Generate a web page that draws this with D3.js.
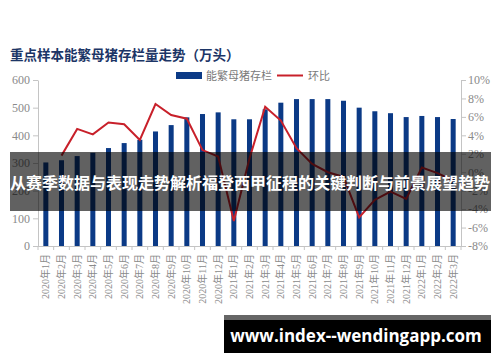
<!DOCTYPE html>
<html>
<head>
<meta charset="utf-8">
<script src="https://cdn.jsdelivr.net/npm/d3@7"></script>
<style>
  body { margin: 0; background: #fff; }
  svg { display: block; }
  .axis text { font-family: "Liberation Serif", "Noto Sans CJK SC", serif; fill: #8a8a8a; }
  .axis path, .axis line { stroke: #c4c4c4; }
</style>
</head>
<body>
<div id="chartDiv"></div>
<script>
// months 2020-1 .. 2022-3
var months = ["2020年1月","2020年2月","2020年3月","2020年4月","2020年5月","2020年6月","2020年7月","2020年8月","2020年9月","2020年10月","2020年11月","2020年12月",
              "2021年1月","2021年2月","2021年3月","2021年4月","2021年5月","2021年6月","2021年7月","2021年8月","2021年9月","2021年10月","2021年11月","2021年12月",
              "2022年1月","2022年2月","2022年3月"];
// 能繁母猪存栏 (万头)
var stock = [302, 310, 325, 337, 354, 372, 384, 414, 437, 465, 477, 483, 458, 458, 494, 518, 531, 531, 531, 525, 500, 487, 480, 466, 470, 466, 459];
// 环比 (%)
var mom = [null, 1.8, 4.7, 4.1, 5.4, 5.2, 3.5, 7.4, 6.2, 5.8, 2.4, 1.7, -5.3, 1.5, 7.1, 5.6, 2.6, 0.9, 0.0, -0.5, -4.9, -3.0, -2.1, -2.9, 0.5, -0.1, -0.9];
var leftTicks = [0, 100, 200, 300, 400, 500, 600];
var rightTicks = [-8, -6, -4, -2, 0, 2, 4, 6, 8, 10];

var width = 500, height = 362;
var svg = d3.select('#chartDiv').append('svg')
    .attr('width', width).attr('height', height);

var x = d3.scaleBand().domain(months).range([38, 461]).paddingInner(0.68).paddingOuter(0.34);
var yL = d3.scaleLinear().domain([0, 600]).range([246, 80]);
var yR = d3.scaleLinear().domain([-8, 10]).range([246, 80]);

// title
svg.append('text')
    .attr('x', 10).attr('y', 60)
    .attr('font-family', '"Noto Sans CJK SC", sans-serif')
    .attr('font-weight', 'bold')
    .attr('font-size', 13.5)
    .attr('fill', '#1c3566')
    .text('重点样本能繁母猪存栏量走势（万头）');

// legend
var lg = svg.append('g').attr('font-family', '"Noto Sans CJK SC", sans-serif').attr('font-size', 11).attr('fill', '#7a7a7a');
lg.append('rect').attr('x', 176).attr('y', 72).attr('width', 26).attr('height', 7).attr('fill', '#0b3a86');
lg.append('text').attr('x', 206).attr('y', 79.5).text('能繁母猪存栏');
lg.append('line').attr('x1', 277).attr('x2', 303).attr('y1', 75.5).attr('y2', 75.5).attr('stroke', '#c8202a').attr('stroke-width', 2);
lg.append('text').attr('x', 308).attr('y', 79.5).text('环比');

// left axis
var axL = svg.append('g').attr('class', 'axis')
    .attr('transform', 'translate(38,0)')
    .call(d3.axisLeft(yL).tickValues(leftTicks).tickSize(5).tickSizeOuter(0).tickPadding(3));
axL.selectAll('text').attr('font-size', 12);

// right axis
var axR = svg.append('g').attr('class', 'axis')
    .attr('transform', 'translate(461,0)')
    .call(d3.axisRight(yR).tickValues(rightTicks).tickSize(5).tickSizeOuter(0).tickPadding(2)
        .tickFormat(function (d) { return d + '%'; }));
axR.selectAll('text').attr('font-size', 12);

// bars
svg.append('g').selectAll('rect')
    .data(stock)
    .enter().append('rect')
    .attr('x', function (d, i) { return x(months[i]); })
    .attr('y', function (d) { return yL(d); })
    .attr('width', x.bandwidth())
    .attr('height', function (d) { return yL(0) - yL(d); })
    .attr('fill', '#0b3a86');

// bottom axis
var axB = svg.append('g').attr('class', 'axis');
axB.append('line').attr('x1', 38).attr('x2', 461).attr('y1', 246.5).attr('y2', 246.5);
axB.selectAll('line.tk')
    .data(months.concat(['end']))
    .enter().append('line').attr('class', 'tk')
    .attr('x1', function (d, i) { return 38 + i * x.step(); })
    .attr('x2', function (d, i) { return 38 + i * x.step(); })
    .attr('y1', 246).attr('y2', 250);
axB.selectAll('text')
    .data(months)
    .enter().append('text')
    .attr('transform', function (d) { return 'translate(' + (x(d) + x.bandwidth() / 2 + 3.5) + ',254) rotate(-90)'; })
    .attr('text-anchor', 'end')
    .attr('font-family', '"Liberation Sans", "Noto Sans CJK SC", sans-serif')
    .attr('font-size', 10)
    .attr('fill', '#9aa3b5')
    .text(function (d) { return d; });

// 环比 line
var line = d3.line()
    .defined(function (d) { return d !== null; })
    .x(function (d, i) { return x(months[i]) + x.bandwidth() / 2; })
    .y(function (d) { return yR(d); });
svg.append('path')
    .datum(mom)
    .attr('d', line)
    .attr('fill', 'none')
    .attr('stroke', '#c8202a')
    .attr('stroke-width', 2);

// overlay banner
svg.append('rect').attr('x', 10).attr('y', 152).attr('width', 481).attr('height', 59)
    .attr('fill', '#000').attr('opacity', 0.62);
svg.append('text')
    .attr('x', 250).attr('y', 189)
    .attr('text-anchor', 'middle')
    .attr('font-family', '"Noto Sans CJK SC", sans-serif')
    .attr('font-weight', 'bold')
    .attr('font-size', 16)
    .attr('fill', '#fff')
    .text('从赛季数据与表现走势解析福登西甲征程的关键判断与前景展望趋势');

// bottom url box
svg.append('rect').attr('x', 224).attr('y', 315).attr('width', 267).attr('height', 5).attr('fill', '#666');
svg.append('rect').attr('x', 224).attr('y', 320).attr('width', 267).attr('height', 33).attr('fill', '#000');
svg.append('text')
    .attr('x', 356).attr('y', 342)
    .attr('text-anchor', 'middle')
    .attr('font-family', '"Open Sans", "Noto Sans", sans-serif')
    .attr('font-weight', 'bold')
    .attr('font-size', 17)
    .attr('fill', '#fff')
    .text('www.index--wendingapp.com');
</script>
</body>
</html>
